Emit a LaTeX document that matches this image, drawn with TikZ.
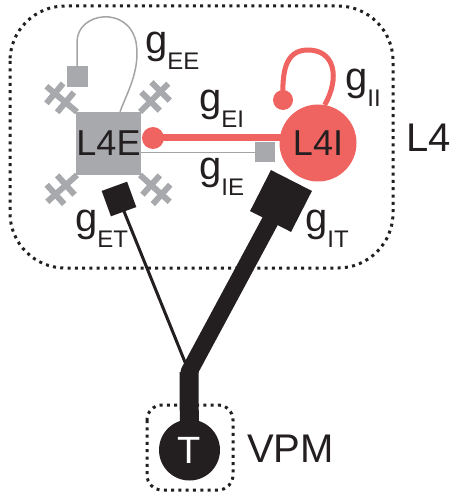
\documentclass[tikz,border=0pt]{standalone}
\usepackage{fontspec}
\setmainfont{Liberation Sans}
\usetikzlibrary{calc,backgrounds}
\definecolor{cgray}{HTML}{A7A9AC}
\definecolor{lgray}{HTML}{A4A4A4}
\definecolor{cred}{HTML}{EF6461}
\definecolor{cblack}{HTML}{231F20}
\newcommand\glab[1]{g\raisebox{-16pt}{\fontsize{24}{24}\selectfont #1}}
\newcommand\dendrite[2]{%
  \begin{scope}[shift={(#1)},rotate=#2]
    \draw[dend] (0,0) -- (40,0);
    \draw[dend] (15,-13) -- (15,13);
    \draw[dend] (29,-13) -- (29,13);
  \end{scope}}
\begin{document}
\begin{tikzpicture}[x=1pt,y=-1pt,
  dotbox/.style={draw=cblack,line width=3pt,dash pattern=on 3pt off 4.3pt},
  dend/.style={draw=cgray,line width=6pt},
  lab/.style={anchor=base west,inner sep=0pt,font=\fontsize{40}{40}\selectfont,text=cblack},
  cell/.style={inner sep=0pt,font=\fontsize{36}{36}\selectfont,text=cblack},
  syn/.style={inner sep=0pt,minimum size=#1,outer sep=0pt}]
\useasboundingbox (0,0) rectangle (455,502);
% L4 box
\draw[dotbox,rounded corners=55pt] (10,6) rectangle (393,268);
% dendrites of L4E
\coordinate (enw) at (77,112);
\coordinate (ene) at (140,112);
\coordinate (esw) at (77,175);
\coordinate (ese) at (140,175);
\dendrite{enw}{140}
\dendrite{ene}{45}
\dendrite{esw}{222}
\dendrite{ese}{318}
% cells
\node[cell,rectangle,fill=cgray,minimum size=63pt] (e) at (108.5,143.5) {L4E};
\node[cell,circle,fill=cred,minimum size=77pt] (i) at (318,143) {L4I};
\node[circle,fill=cblack,minimum size=61pt,inner sep=0pt,text=white,font=\fontsize{38}{38}\selectfont] (t) at (189.5,450) {T};
\coordinate (J) at (189,372);
% synapses
\node[syn=21pt,rectangle,fill=cgray] (ee) at (77,77) {};
\node[syn=22pt,circle,fill=cred] (eidot) at (153,138) {};
\node[syn=20pt,rectangle,fill=cgray] (ie) at (265,152.5) {};
\node[syn=20pt,circle,fill=cred] (iidot) at (283,100) {};
\node[syn=27pt,rectangle,fill=cblack,rotate=20] (et) at (119,199) {};
\node[syn=46pt,rectangle,fill=cblack,rotate=-27] (it) at (281,201) {};
% connectors
\begin{pgfonlayer}{background}
\draw[lgray,line width=1.5pt] (ee.north) -- (77,42) .. controls (77,12) and (128,5) .. (136,42) .. controls (141,70) and (126,95) .. ($(e.north)+(11.5,0)$);
\draw[cred,line width=7pt] (eidot.center) -- (eidot.center -| i.center);
\draw[lgray,line width=1.5pt] (e.east |- ie) -- (ie.center);
\draw[cred,line width=5pt] (i.80) .. controls (340,78) and (335,50) .. (308,50) .. controls (285,50) and (282,72) .. (iidot.center);
\draw[cblack,line width=3pt] (et.center) -- (J);
\draw[cblack,line width=17pt,line cap=round] (it.center) -- (J);
\draw[cblack,line width=19pt] (J) -- (t.center);
\end{pgfonlayer}
% VPM box
\draw[dotbox,rounded corners=15pt] (147,405) rectangle (233,490);
% labels
\node[lab] (gee) at (145,54) {\glab{EE}};
\node[lab] (gei) at (199,112) {\glab{EI}};
\node[lab] (gie) at (199,180) {\glab{IE}};
\node[lab] (gii) at (345,91) {\glab{II}};
\node[lab] (get) at (75,231) {\glab{ET}};
\node[lab] (git) at (305,231) {\glab{IT}};
\node[lab] (l4) at (406,152) {L4};
\node[lab] (vpm) at (247,462) {VPM};
\end{tikzpicture}
\end{document}
